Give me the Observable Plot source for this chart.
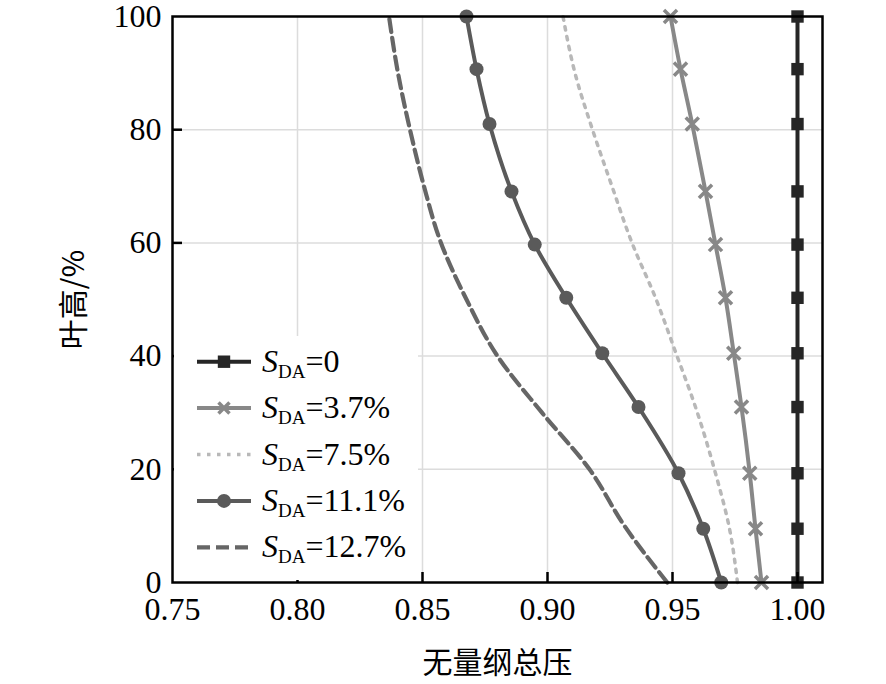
<!DOCTYPE html>
<html>
<head>
<meta charset="utf-8">
<script src="https://cdn.jsdelivr.net/npm/d3@7"></script>
<script src="https://cdn.jsdelivr.net/npm/@observablehq/plot@0.6"></script>
<style>
  html, body { margin: 0; padding: 0; background: #fff; overflow: hidden; }
  #chart svg { display: block; }
  #chart svg text, #chart svg tspan { font-family: 'Liberation Serif', 'Times New Roman', serif !important; font-size: 32px; }
  #chart svg text.cjk { font-family: 'Noto Sans CJK SC', sans-serif !important; font-size: 30px !important; }
  #chart svg tspan.sub { font-size: 19px !important; }
</style>
</head>
<body>
<div id="chart"></div>
<script>
// ---- data ----
const spanLevels = [0, 9.5, 19.3, 31, 40.5, 50.3, 59.7, 69.1, 81, 90.7, 100];
const sda0   = [1, 1, 1, 1, 1, 1, 1, 1, 1, 1, 1];
const sda37  = [0.9856, 0.9832, 0.9809, 0.9776, 0.9745, 0.9712, 0.9672, 0.9632, 0.9579, 0.9532, 0.9492];
const sda111 = [0.9695, 0.9623, 0.9524, 0.9364, 0.9219, 0.9075, 0.8949, 0.8856, 0.8768, 0.8716, 0.8676];

const sda75Span = [0, 9.5, 19.3, 31, 40.5, 50.3, 60, 70, 80, 90, 100];
const sda75     = [0.976, 0.9728, 0.9672, 0.9592, 0.9514, 0.9432, 0.9338, 0.9258, 0.918, 0.911, 0.9062];

const sda127Span = [0, 10, 20, 30, 40, 50, 60, 70, 80, 90, 100];
const sda127     = [0.9479, 0.9308, 0.9168, 0.8978, 0.88, 0.8676, 0.8574, 0.8506, 0.845, 0.8402, 0.8366];

const xTicks = [0.75, 0.80, 0.85, 0.90, 0.95, 1.00];
const yTicks = [0, 20, 40, 60, 80, 100];
const legendValues = ["0", "3.7%", "7.5%", "11.1%", "12.7%"];
const xLabel = "无量纲总压";
const yLabel = "叶高/%";

// ---- tables ----
const toRows = (xs, ys) => xs.map((x, i) => ({x, y: ys[i]}));
const s0   = toRows(sda0, spanLevels);
const s37  = toRows(sda37, spanLevels);
const s111 = toRows(sda111, spanLevels);
const s75  = toRows(sda75, sda75Span);
const s127 = toRows(sda127, sda127Span);

const styles = [
  {stroke: "#262626", strokeWidth: 4, symbol: "square", fill: "#262626", r: 7},
  {stroke: "#888888", strokeWidth: 4, symbol: "times", fill: "none", r: 6},
  {stroke: "#b8b8b8", strokeWidth: 3.5, dash: "3.5,6.5"},
  {stroke: "#5a5a5a", strokeWidth: 4, symbol: "circle", fill: "#5a5a5a", r: 7},
  {stroke: "#666666", strokeWidth: 4.2, dash: "13,6"}
];

const curve = "monotone-y";

const chart = Plot.plot({
  width: 886,
  height: 684,
  marginLeft: 172,
  marginRight: 64,
  marginTop: 16,
  marginBottom: 102,
  style: {background: "#fff", color: "#000"},
  x: {domain: [0.75, 1.01]},
  y: {domain: [0, 100]},
  marks: [
    Plot.gridX([0.80, 0.85, 0.90, 0.95], {stroke: "#dcdcdc", strokeOpacity: 1, strokeWidth: 1.5}),
    Plot.gridY([20, 40, 60, 80], {stroke: "#dcdcdc", strokeOpacity: 1, strokeWidth: 1.5}),
    Plot.line(s127, {x: "x", y: "y", curve, stroke: styles[4].stroke, strokeWidth: styles[4].strokeWidth, strokeDasharray: styles[4].dash}),
    Plot.line(s75, {x: "x", y: "y", curve, stroke: styles[2].stroke, strokeWidth: styles[2].strokeWidth, strokeDasharray: styles[2].dash}),
    Plot.line(s111, {x: "x", y: "y", curve, stroke: styles[3].stroke, strokeWidth: styles[3].strokeWidth}),
    Plot.dot(s111, {x: "x", y: "y", symbol: "circle", r: styles[3].r, fill: styles[3].fill}),
    Plot.line(s37, {x: "x", y: "y", curve, stroke: styles[1].stroke, strokeWidth: styles[1].strokeWidth}),
    Plot.dot(s37, {x: "x", y: "y", symbol: "times", r: styles[1].r, stroke: styles[1].stroke, strokeWidth: 3.5}),
    Plot.line(s0, {x: "x", y: "y", stroke: styles[0].stroke, strokeWidth: styles[0].strokeWidth}),
    Plot.dot(s0, {x: "x", y: "y", symbol: "square", r: styles[0].r, fill: styles[0].fill}),
    Plot.frame({stroke: "#000", strokeWidth: 2.5}),
    Plot.axisX([0.80, 0.85, 0.90, 0.95, 1.00], {tickSize: -10, strokeWidth: 2.5, tickFormat: () => "", label: null}),
    Plot.axisY([20, 40, 60, 80], {tickSize: -10, strokeWidth: 2.5, tickFormat: () => "", label: null}),
    Plot.axisX(xTicks, {tickSize: 0, tickPadding: 15, tickFormat: d => d.toFixed(2), fontSize: 32,
      label: xLabel, labelAnchor: "center", labelArrow: "none", labelOffset: 90}),
    Plot.axisY(yTicks, {tickSize: 0, tickPadding: 11, fontSize: 32,
      label: yLabel, labelAnchor: "center", labelArrow: "none", labelOffset: 110})
  ]
});

document.getElementById("chart").appendChild(chart);

// mark the Chinese axis titles so they use a CJK font
d3.select(chart).selectAll("text").each(function() {
  const t = (this.textContent || "").trim();
  if (t === xLabel || t === yLabel) this.classList.add("cjk");
});

// ---- legend ----
const svg = d3.select(chart);
const lg = svg.append("g").attr("class", "legend");
lg.append("rect").attr("x", 174).attr("y", 336).attr("width", 244).attr("height", 244).attr("fill", "#fff");
const rowY0 = 361.7, rowStep = 46.4;
legendValues.forEach((v, i) => {
  const yy = rowY0 + i * rowStep;
  const st = styles[i];
  lg.append("line").attr("x1", 197).attr("x2", 251).attr("y1", yy).attr("y2", yy)
    .attr("stroke", st.stroke).attr("stroke-width", st.strokeWidth)
    .attr("stroke-dasharray", st.dash || null);
  if (st.symbol === "square") {
    lg.append("rect").attr("x", 224 - 6.2).attr("y", yy - 6.2).attr("width", 12.4).attr("height", 12.4).attr("fill", st.fill);
  } else if (st.symbol === "circle") {
    lg.append("circle").attr("cx", 224).attr("cy", yy).attr("r", st.r).attr("fill", st.fill);
  } else if (st.symbol === "times") {
    const s = 5.5;
    lg.append("path").attr("d", `M${224 - s},${yy - s}L${224 + s},${yy + s}M${224 - s},${yy + s}L${224 + s},${yy - s}`)
      .attr("stroke", st.stroke).attr("stroke-width", 3.5);
  }
  const t = lg.append("text").attr("x", 262).attr("y", yy + 10)
    .attr("fill", "#000").attr("text-anchor", "start");
  t.append("tspan").attr("font-style", "italic").text("S");
  t.append("tspan").attr("class", "sub").attr("dy", 6).text("DA");
  t.append("tspan").attr("dy", -6).text("=" + v);
});
</script>
</body>
</html>
